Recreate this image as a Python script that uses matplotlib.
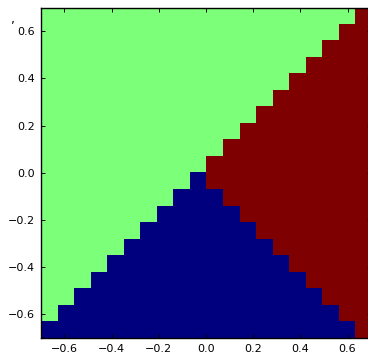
import numpy as np
import matplotlib
matplotlib.use("Agg")
from matplotlib import pyplot as plt

# class grid, top row first: 0 = blue, 1 = green, 2 = red
rows = [
    "11111111111111111112",
    "11111111111111111122",
    "11111111111111111222",
    "11111111111111112222",
    "11111111111111122222",
    "11111111111111222222",
    "11111111111112222222",
    "11111111111122222222",
    "11111111111222222222",
    "11111111112222222222",
    "11111111102222222222",
    "11111111000222222222",
    "11111110000022222222",
    "11111100000002222222",
    "11111000000000222222",
    "11110000000000022222",
    "11100000000000002222",
    "11000000000000000222",
    "10000000000000000022",
    "00000000000000000002",
]
x_range = (-0.7, 0.7)
y_range = (-0.7, 0.7)
ticks = [-0.6, -0.4, -0.2, 0.0, 0.2, 0.4, 0.6]

grid = np.array([[int(c) for c in r] for r in rows])

fig = plt.figure(figsize=(3.68, 3.53), dpi=100)
ax = fig.add_axes([0.1106, 0.0425, 0.898, 0.936])
ax.imshow(grid, cmap="jet", vmin=0, vmax=2, interpolation="nearest",
          extent=(x_range[0], x_range[1], y_range[0], y_range[1]),
          aspect="auto", origin="upper")
ax.set_xlim(*x_range)
ax.set_ylim(*y_range)
ax.set_xticks(ticks)
ax.set_yticks(ticks)
ax.tick_params(direction="in", top=True, right=True, length=3,
               width=0.7, labelsize=8, pad=4)
for s in ax.spines.values():
    s.set_linewidth(1)

fig.text(13 / 368, 1 - 20 / 353, ",", fontsize=9, ha="center", va="center")

fig.savefig("out.png", dpi=100)
